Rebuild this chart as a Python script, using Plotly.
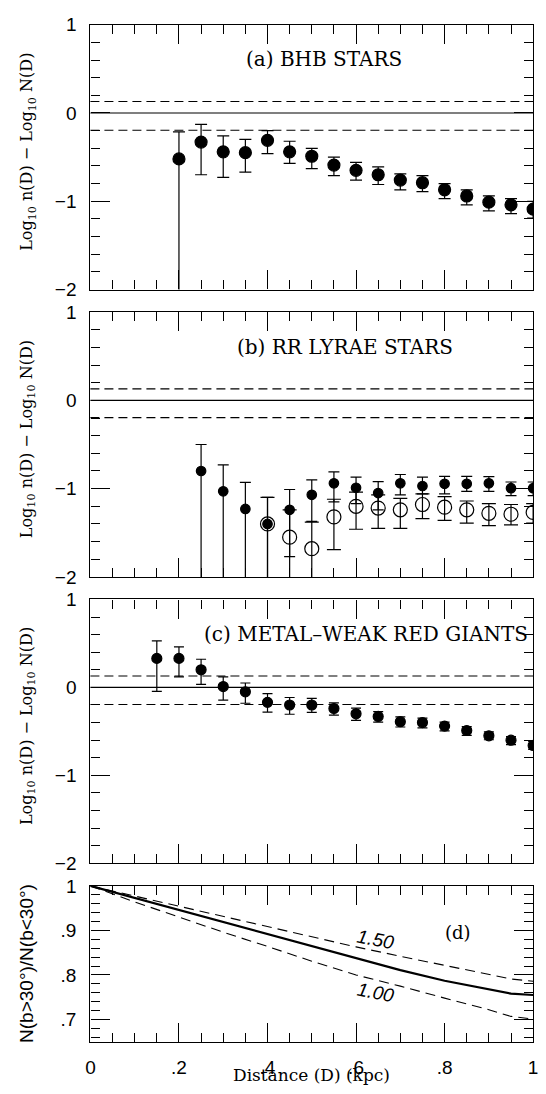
import numpy as np
import plotly.graph_objects as go

# ---------------- data ----------------
# (a) BHB stars
a_d = [0.20, 0.25, 0.30, 0.35, 0.40, 0.45, 0.50, 0.55, 0.60, 0.65, 0.70, 0.75, 0.80, 0.85, 0.90, 0.95, 1.00]
a_y = [-0.52, -0.33, -0.44, -0.45, -0.31, -0.44, -0.49, -0.59, -0.65, -0.70, -0.76, -0.79, -0.87, -0.94, -1.01, -1.04, -1.09]
a_hi = [-0.215, -0.13, -0.26, -0.30, -0.20, -0.32, -0.40, -0.50, -0.56, -0.61, -0.69, -0.71, -0.80, -0.87, -0.94, -0.97, -1.00]
a_lo = [np.nan, -0.70, -0.73, -0.67, -0.46, -0.57, -0.63, -0.71, -0.76, -0.81, -0.87, -0.89, -0.97, -1.04, -1.11, -1.14, -1.19]

# (b) RR Lyrae stars, filled symbols
bf_d = [0.25, 0.30, 0.35, 0.40, 0.45, 0.50, 0.55, 0.60, 0.65, 0.70, 0.75, 0.80, 0.85, 0.90, 0.95, 1.00]
bf_y = [-0.80, -1.03, -1.23, -1.40, -1.24, -1.07, -0.94, -0.99, -1.05, -0.94, -0.97, -0.945, -0.945, -0.94, -0.995, -0.995]
bf_hi = [-0.50, -0.73, -0.93, -1.10, -1.01, -0.90, -0.81, -0.87, -0.92, -0.84, -0.87, -0.86, -0.86, -0.865, -0.925, -0.925]
bf_lo = [np.nan, np.nan, np.nan, np.nan, -1.77, -1.37, -1.15, -1.17, -1.24, -1.07, -1.06, -1.06, -1.03, -1.03, -1.08, -1.08]

# (b) RR Lyrae stars, open symbols
bo_d = [0.40, 0.45, 0.50, 0.55, 0.60, 0.65, 0.70, 0.75, 0.80, 0.85, 0.90, 0.95, 1.00]
bo_y = [-1.40, -1.55, -1.68, -1.32, -1.20, -1.22, -1.24, -1.18, -1.21, -1.24, -1.28, -1.29, -1.27]
bo_hi = [-1.10, -1.24, -1.38, -1.12, -1.04, -1.07, -1.11, -1.06, -1.09, -1.14, -1.17, -1.18, -1.17]
bo_lo = [np.nan, np.nan, np.nan, -1.69, -1.46, -1.45, -1.45, -1.34, -1.36, -1.39, -1.42, -1.41, -1.39]

# (c) metal-weak red giants
c_d = [0.15, 0.20, 0.25, 0.30, 0.35, 0.40, 0.45, 0.50, 0.55, 0.60, 0.65, 0.70, 0.75, 0.80, 0.85, 0.90, 0.95, 1.00]
c_y = [0.33, 0.33, 0.20, 0.01, -0.05, -0.17, -0.20, -0.20, -0.24, -0.30, -0.33, -0.39, -0.40, -0.44, -0.49, -0.55, -0.60, -0.66]
c_hi = [0.53, 0.46, 0.32, 0.12, 0.05, -0.07, -0.115, -0.125, -0.175, -0.235, -0.275, -0.335, -0.35, -0.395, -0.445, -0.505, -0.56, -0.615]
c_lo = [-0.045, 0.12, 0.035, -0.145, -0.18, -0.28, -0.305, -0.285, -0.315, -0.375, -0.395, -0.45, -0.46, -0.495, -0.545, -0.595, -0.65, -0.705]

# reference levels in panels a-c
ref_solid = [0.0]
ref_dashed = [0.13, -0.195]

# (d) ratio curves
d_d = [0.0, 0.1, 0.2, 0.3, 0.4, 0.5, 0.6, 0.7, 0.8, 0.9, 0.95, 1.0]
d_mid = [1.0, 0.973, 0.946, 0.919, 0.893, 0.866, 0.838, 0.811, 0.787, 0.768, 0.758, 0.755]
d_150 = [1.0, 0.977, 0.955, 0.932, 0.909, 0.885, 0.863, 0.842, 0.822, 0.802, 0.791, 0.786]
d_100 = [1.0, 0.964, 0.930, 0.896, 0.864, 0.831, 0.800, 0.775, 0.748, 0.722, 0.707, 0.701]

panel_titles = ["(a) BHB STARS", "(b) RR LYRAE STARS", "(c) METAL\u2013WEAK RED GIANTS"]
x_ticks = [0, 0.2, 0.4, 0.6, 0.8, 1.0]
x_ticktext = ["0", ".2", ".4", ".6", ".8", "1"]
d_yticks = [0.7, 0.8, 0.9, 1.0]
d_yticktext = [".7", ".8", ".9", "1"]

# ---------------- layout geometry ----------------
W, H = 546, 1094
XL, XR = 87, 538
panels_px = [(15, 285), (308, 578), (601, 870), (893, 1052)]


def dom(top, bot):
    return [1 - bot / H, 1 - top / H]


def err(y, hi, lo, floor=-3.0):
    y = np.array(y, float)
    hi = np.array(hi, float)
    lo = np.array(lo, float)
    lo = np.where(np.isnan(lo), floor, lo)
    return (hi - y).tolist(), (y - lo).tolist()


fig = go.Figure()

tickfont = dict(family="Liberation Sans", size=19, color="black")


def add_points(d, y, hi, lo, ax, size, symbol="circle", capw=5.5, lw=1.2):
    up, dn = err(y, hi, lo)
    fig.add_trace(go.Scatter(
        x=d, y=y, mode="markers", xaxis="x" + ax, yaxis="y" + ax,
        marker=dict(size=size, color="black", symbol=symbol,
                    line=dict(width=lw, color="black")),
        error_y=dict(type="data", symmetric=False, array=up, arrayminus=dn,
                     width=capw, thickness=1.2, color="black"),
        showlegend=False, hoverinfo="skip"))


add_points(a_d, a_y, a_hi, a_lo, "1", 12, capw=6)
add_points(bf_d, bf_y, bf_hi, bf_lo, "2", 9.5, capw=5.5)
add_points(bo_d, bo_y, bo_hi, bo_lo, "2", 14, symbol="circle-open", capw=7, lw=1.2)
add_points(c_d, c_y, c_hi, c_lo, "3", 10, capw=5)

# panel d curves
fig.add_trace(go.Scatter(x=d_d, y=d_mid, mode="lines", xaxis="x4", yaxis="y4",
                         line=dict(color="black", width=2.2), showlegend=False, hoverinfo="skip"))
fig.add_trace(go.Scatter(x=d_d, y=d_150, mode="lines", xaxis="x4", yaxis="y4",
                         line=dict(color="black", width=1.1, dash="10px,6px"), showlegend=False, hoverinfo="skip"))
fig.add_trace(go.Scatter(x=d_d, y=d_100, mode="lines", xaxis="x4", yaxis="y4",
                         line=dict(color="black", width=1.1, dash="10px,6px"), showlegend=False, hoverinfo="skip"))

shapes = []
for i in range(1, 4):
    ya = "y" if i == 1 else "y%d" % i
    xa = "x" if i == 1 else "x%d" % i
    for lv in ref_solid:
        shapes.append(dict(type="line", xref=xa + " domain", yref=ya, x0=0, x1=1, y0=lv, y1=lv,
                           line=dict(color="black", width=1.2)))
    for lv in ref_dashed:
        shapes.append(dict(type="line", xref=xa + " domain", yref=ya, x0=0, x1=1, y0=lv, y1=lv,
                           line=dict(color="black", width=1.1, dash="9px,5px")))

axbase = dict(showline=True, linecolor="black", linewidth=1.3, mirror="allticks",
              ticks="inside", ticklen=19, tickwidth=1.1, tickcolor="black",
              showgrid=False, zeroline=False, tickfont=tickfont)

layout = dict(width=W, height=H, margin=dict(l=0, r=0, t=0, b=0),
              paper_bgcolor="white", plot_bgcolor="white", shapes=shapes,
              showlegend=False)

for i, (top, bot) in enumerate(panels_px, start=1):
    xk = "xaxis" if i == 1 else "xaxis%d" % i
    yk = "yaxis" if i == 1 else "yaxis%d" % i
    ya = "y" if i == 1 else "y%d" % i
    xa = "x" if i == 1 else "x%d" % i
    xax = dict(axbase, domain=[XL / W, XR / W], anchor=ya, range=[0, 1],
               tickmode="array", tickvals=x_ticks, ticktext=x_ticktext,
               showticklabels=(i == 4), ticklabelstandoff=8,
               minor=dict(dtick=0.05, tick0=0, ticks="inside", ticklen=9,
                          tickwidth=1.1, tickcolor="black", showgrid=False))
    if i < 4:
        yax = dict(axbase, domain=dom(top, bot), anchor=xa, range=[-2, 1],
                   tick0=0, dtick=1, ticklabelstandoff=9,
                   minor=dict(dtick=0.2, tick0=0, ticks="inside", ticklen=9,
                              tickwidth=1.1, tickcolor="black", showgrid=False))
    else:
        yax = dict(axbase, domain=dom(top, bot), anchor=xa, range=[0.65, 1.0],
                   tickmode="array", tickvals=d_yticks, ticktext=d_yticktext,
                   ticklabelstandoff=9,
                   minor=dict(dtick=0.02, tick0=0, ticks="inside", ticklen=9,
                              tickwidth=1.1, tickcolor="black", showgrid=False))
    layout[xk] = xax
    layout[yk] = yax

fig.update_layout(**layout)

serif = "DejaVu Serif"
ann = []
title_pos = [(0.527, 0.61), (0.575, 0.61), (0.622, 0.61)]
for i, (t, (tx, ty)) in enumerate(zip(panel_titles, title_pos), start=1):
    xa = "x" if i == 1 else "x%d" % i
    ya = "y" if i == 1 else "y%d" % i
    ann.append(dict(text=t, x=tx, y=ty, xref=xa, yref=ya, showarrow=False,
                    xanchor="center", yanchor="middle",
                    font=dict(family=serif, size=20, color="black")))
    top, bot = panels_px[i - 1]
    ann.append(dict(text="Log<sub>10</sub> n(D) \u2212 Log<sub>10</sub> N(D)",
                    x=23 / W, y=1 - ((top + bot) / 2 - 5) / H, xref="paper", yref="paper",
                    xanchor="center", yanchor="middle",
                    textangle=-90, showarrow=False,
                    font=dict(family=serif, size=16, color="black")))

ann.append(dict(text="N(b>30\u00b0)/N(b<30\u00b0)", x=22 / W, y=1 - 972 / H,
                xref="paper", yref="paper", textangle=-90, showarrow=False,
                xanchor="center", yanchor="middle",
                font=dict(family="Liberation Sans", size=19, color="black")))
ann.append(dict(text="Distance (D) (kpc)", x=(XL + XR) / 2 / W, y=1 - 1086 / H,
                xref="paper", yref="paper", showarrow=False,
                xanchor="center", yanchor="middle",
                font=dict(family=serif, size=17, color="black")))
ann.append(dict(text="(d)", x=0.83, y=0.896, xref="x4", yref="y4", showarrow=False,
                xanchor="center", yanchor="middle",
                font=dict(family=serif, size=18, color="black")))
ann.append(dict(text="<i>1.50</i>", x=0.645, y=0.880, xref="x4", yref="y4", showarrow=False,
                xanchor="center", yanchor="middle",
                textangle=11, font=dict(family="Liberation Sans", size=19, color="black")))
ann.append(dict(text="<i>1.00</i>", x=0.645, y=0.760, xref="x4", yref="y4", showarrow=False,
                xanchor="center", yanchor="middle",
                textangle=11, font=dict(family="Liberation Sans", size=19, color="black")))

fig.update_layout(annotations=ann)

fig.write_html("out.html")
